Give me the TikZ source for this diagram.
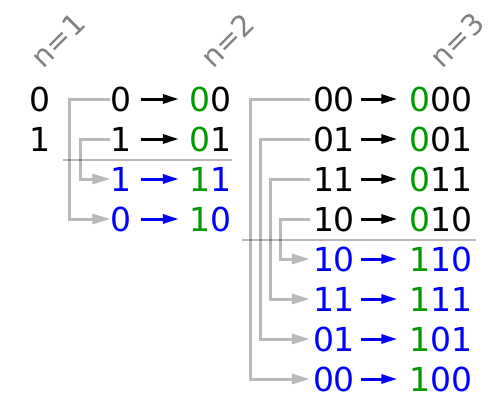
\documentclass[tikz,border=0pt]{standalone}
\usepackage{fontspec}
\setmainfont{DejaVu Sans}
\usetikzlibrary{arrows.meta}
\definecolor{grn}{RGB}{0,153,0}
\definecolor{blu}{RGB}{0,0,255}
\definecolor{lnk}{RGB}{185,185,185}
\tikzset{
  dig/.style={inner sep=0pt, anchor=base, font=\fontsize{33}{33}\selectfont},
  lbl/.style={inner sep=0pt, rotate=45, text=black!50, font=\fontsize{29}{29}\selectfont},
  link/.style={draw=lnk, line width=3pt, -{Triangle[length=18pt,width=10pt]}},
  sep/.style={draw=black, opacity=0.28, line width=1.4pt},
  maparrow/.style={line width=3pt, -{Triangle[length=16pt,width=9pt]}},
}
\begin{document}
\begin{tikzpicture}[x=1pt,y=-1pt]
\useasboundingbox (0,0) rectangle (500,400);
% labels
\node[lbl] (t1) at (58,40) {n=1};
\node[lbl] (t2) at (227,40) {n=2};
\node[lbl] (t3) at (457,40) {n=3};
% n=1
\node[dig] (a0) at (40,111) {0};
\node[dig] (a1) at (40,151) {1};
% n=2 connectors
\coordinate (bx0) at (69,0);
\coordinate (bx1) at (80,0);
% n=2
\foreach \i/\l/\r/\c in {0/0/{\textcolor{grn}{0}0}/black, 1/1/{\textcolor{grn}{0}1}/black, 2/1/{\textcolor{grn}{1}1}/blu, 3/0/{\textcolor{grn}{1}0}/blu}{
  \node[dig, text=\c] (bL\i) at (121,111+40*\i) {\l};
  \node[dig, text=\c] (bR\i) at (210,111+40*\i) {\r};
  \draw[maparrow, \c, shorten <=9pt, shorten >=10pt] ([yshift=12pt]bL\i.base east) coordinate (bs\i) -- (bs\i -| bR\i.west);
}
\draw[link] ([yshift=12pt]bL0.base west) coordinate (p0) -- (p0 -| bx0) |- ([yshift=12pt]bL3.base west);
\draw[link] ([yshift=12pt]bL1.base west) coordinate (p1) -- (p1 -| bx1) |- ([yshift=12pt]bL2.base west);
% n=3
\foreach \i/\l/\r/\c in {0/00/{\textcolor{grn}{0}00}/black, 1/01/{\textcolor{grn}{0}01}/black, 2/11/{\textcolor{grn}{0}11}/black, 3/10/{\textcolor{grn}{0}10}/black, 4/10/{\textcolor{grn}{1}10}/blu, 5/11/{\textcolor{grn}{1}11}/blu, 6/01/{\textcolor{grn}{1}01}/blu, 7/00/{\textcolor{grn}{1}00}/blu}{
  \node[dig, text=\c] (cL\i) at (334,111+40*\i) {\l};
  \node[dig, text=\c] (cR\i) at (441,111+40*\i) {\r};
  \draw[maparrow, \c, shorten <=6pt, shorten >=12pt] ([yshift=12pt]cL\i.base east) coordinate (cs\i) -- (cs\i -| cR\i.west);
}
\foreach \i/\j/\x in {0/7/250, 1/6/260, 2/5/270, 3/4/280}{
  \coordinate (cx\i) at (\x,0);
  \draw[link] ([xshift=-3pt,yshift=12pt]cL\i.base west) coordinate (q\i) -- (q\i -| cx\i) |- ([xshift=-3pt,yshift=12pt]cL\j.base west);
}
% separators
\draw[sep] (63,160) coordinate (s1a) -- (232,160) coordinate (s1b);
\draw[sep] (242,240) coordinate (s2a) -- (476,240) coordinate (s2b);
\end{tikzpicture}
\end{document}
